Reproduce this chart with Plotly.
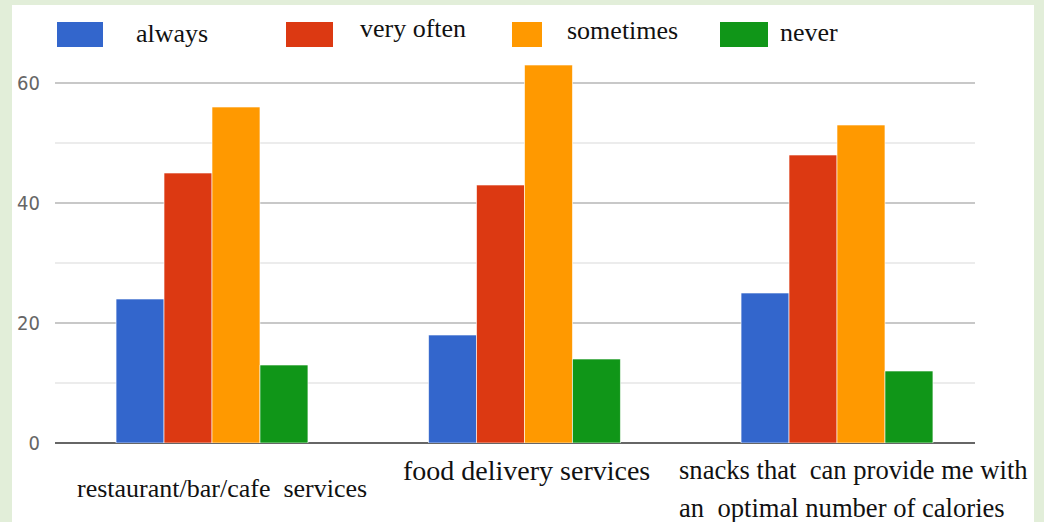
import plotly.graph_objects as go

# ---- data ----
categories = ["restaurant/bar/cafe\u00a0 services",
              "food delivery services",
              "snacks that\u00a0 can provide me with<br>an\u00a0 optimal number of calories"]
series_names = ["always", "very often", "sometimes", "never"]
always = [24, 18, 25]
very_often = [45, 43, 48]
sometimes = [56, 63, 53]
never = [13, 14, 12]
y_ticks = [0, 20, 40, 60]

colors = ["#3366cc", "#dc3912", "#ff9900", "#109618"]
values = [always, very_often, sometimes, never]

W, H = 1044, 522
L, R, T, B = 55, 975, 53, 443  # plot area in pixels


def px2x(px):
    return (px - L) / (R - L)


def py2y(py):
    return (B - py) / (B - T)


xs = [0, 1, 2]
fig = go.Figure()
for name, vals, col in zip(series_names, values, colors):
    fig.add_trace(go.Bar(x=xs, y=vals, name=name, marker_color=col,
                         marker_line=dict(color="rgba(255,255,255,0.6)", width=1),
                         showlegend=False))

serif = "Liberation Serif, Times New Roman, serif"
shapes = [dict(type="rect", xref="paper", yref="paper", layer="below",
               x0=px2x(12), x1=px2x(1034), y0=py2y(540), y1=py2y(5),
               fillcolor="white", line=dict(width=0))]
annotations = []

# custom legend (swatch pixel geometry)
leg_sw = [(57, 103), (286, 333), (512, 542), (720, 768)]
leg_tx = [(134, 34), (358, 28), (565, 31), (778, 33)]
for name, col, (a, b), (tx, ty) in zip(series_names, colors, leg_sw, leg_tx):
    shapes.append(dict(type="rect", xref="paper", yref="paper",
                       x0=px2x(a), x1=px2x(b), y0=py2y(47), y1=py2y(22),
                       fillcolor=col, line=dict(width=0)))
    annotations.append(dict(text=name, xref="paper", yref="paper",
                            x=px2x(tx), y=py2y(ty), xanchor="left", yanchor="middle",
                            showarrow=False, font=dict(family=serif, size=26, color="#111111")))

# category labels: (xshift, yshift, anchor, size)
lab_specs = [
    [(10, -45, "center", 26)],
    [(2, -27, "center", 28)],
    [(-160, -27, "left", 26.6), (-160, -65, "left", 26.6)],
]
for i, (cat, spec) in enumerate(zip(categories, lab_specs)):
    lines = cat.split("<br>")
    for line, (xs_, ys_, anc, fs) in zip(lines, spec):
        annotations.append(dict(text=line, x=xs[i], xref="x", y=0, yref="paper",
                                xshift=xs_, yshift=ys_, xanchor=anc, yanchor="middle",
                                showarrow=False,
                                font=dict(family=serif, size=fs, color="#111111")))

fig.update_layout(
    width=W, height=H,
    margin=dict(l=L, r=W - R, t=T, b=H - B, pad=0),
    paper_bgcolor="#e2eed9",
    plot_bgcolor="white",
    barmode="group",
    bargap=0.386,
    bargroupgap=0,
    shapes=shapes,
    annotations=annotations,
    xaxis=dict(range=[-0.5024, 2.4416], showticklabels=False, showgrid=False,
               zeroline=False, showline=False, tickvals=xs),
    yaxis=dict(range=[0, 65], tickvals=y_ticks, showgrid=True, gridcolor="#c8c8c8",
               gridwidth=1.5, zeroline=True, zerolinecolor="#666666", zerolinewidth=2,
               minor=dict(dtick=10, showgrid=True, gridcolor="#ececec", gridwidth=1.5),
               ticks="", ticklabelstandoff=14,
               tickfont=dict(family="Liberation Sans Narrow, DejaVu Sans Condensed, sans-serif",
                             size=20, color="#666666")),
    font=dict(family=serif),
)

fig.write_html("out.html")
